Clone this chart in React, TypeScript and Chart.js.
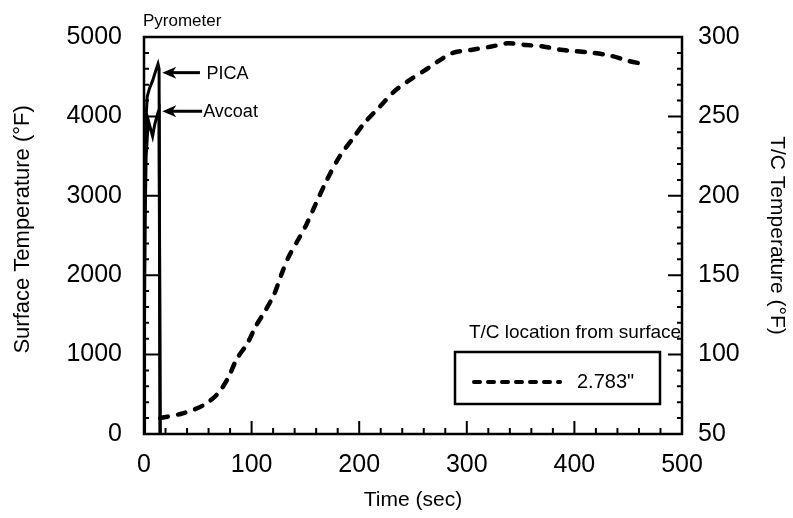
import React, { useEffect, useRef } from "react";
import { Chart, registerables } from "chart.js";

Chart.register(...registerables);

// T/C (thermocouple) temperature, 2.783" from surface (right axis)
const tcTime = [15, 36, 55, 68, 78, 86, 96, 104, 113, 121, 128, 134, 143, 151, 159, 170, 182, 194, 205, 219, 233, 247, 261, 274, 287, 305, 323, 338, 355, 371, 387, 402, 418, 435, 450, 464];
const tcTemp = [60, 63, 68, 75, 85, 97, 107, 118, 128, 138, 151, 161, 172, 182, 194, 210, 225, 236, 246, 256, 266, 273, 279, 285, 290, 292, 294, 296, 295, 294, 292, 291, 290, 288, 285, 283];

// Pyrometer surface temperature (left axis)
const picaTime = [0, 0.5, 1, 2, 3, 5, 8, 11, 13, 14, 15];
const picaTemp = [0, 2000, 3200, 4000, 4250, 4350, 4450, 4580, 4660, 4600, 0];
const avcoatTime = [0, 0.5, 1, 2, 4, 6, 8, 10, 13, 14, 15];
const avcoatTemp = [0, 1500, 2600, 3500, 3950, 3850, 3750, 3900, 4050, 4080, 0];

const xTicks = [0, 100, 200, 300, 400, 500];
const leftTicks = [0, 1000, 2000, 3000, 4000, 5000];
const rightTicks = [50, 100, 150, 200, 250, 300];

const FONT = "'Liberation Sans', Arial, Helvetica, sans-serif";

const decorPlugin = {
  id: "decor",
  afterDatasetsDraw(chart: any) {
    const { ctx, chartArea: a, scales } = chart;
    const x = scales.x, y = scales.y, y2 = scales.y2;
    ctx.save();
    ctx.strokeStyle = "#000";
    ctx.fillStyle = "#000";
    // frame
    ctx.lineWidth = 2.5;
    ctx.strokeRect(a.left, a.top, a.right - a.left, a.bottom - a.top);
    // inward ticks
    ctx.lineWidth = 2;
    ctx.beginPath();
    for (let t = 0; t <= 500; t += 20) {
      const px = x.getPixelForValue(t);
      const len = t % 100 === 0 ? 13 : 6;
      ctx.moveTo(px, a.bottom);
      ctx.lineTo(px, a.bottom - len);
    }
    for (let v = 0; v <= 5000; v += 200) {
      const py = y.getPixelForValue(v);
      const len = v % 1000 === 0 ? 15 : 5;
      ctx.moveTo(a.left, py);
      ctx.lineTo(a.left + len, py);
    }
    for (let v = 50; v <= 300; v += 10) {
      const py = y2.getPixelForValue(v);
      const len = v % 50 === 0 ? 14 : 5;
      ctx.moveTo(a.right, py);
      ctx.lineTo(a.right - len, py);
    }
    ctx.stroke();

    // Pyrometer label
    ctx.font = `17px ${FONT}`;
    ctx.textBaseline = "middle";
    ctx.textAlign = "left";
    ctx.fillText("Pyrometer", a.left - 1, 21);

    // arrows
    const arrows = [
      { text: "PICA", tipT: 17, v: 4551, endT: 52, textT: 58 },
      { text: "Avcoat", tipT: 17, v: 4065, endT: 54, textT: 55 },
    ];
    ctx.font = `18px ${FONT}`;
    ctx.lineWidth = 3;
    for (const ar of arrows) {
      const tx = x.getPixelForValue(ar.tipT);
      const ex = x.getPixelForValue(ar.endT);
      const py = y.getPixelForValue(ar.v);
      ctx.beginPath();
      ctx.moveTo(tx + 8, py);
      ctx.lineTo(ex, py);
      ctx.stroke();
      ctx.beginPath();
      ctx.moveTo(tx, py);
      ctx.lineTo(tx + 14, py - 6);
      ctx.lineTo(tx + 10, py);
      ctx.lineTo(tx + 14, py + 6);
      ctx.closePath();
      ctx.fill();
      ctx.fillText(ar.text, x.getPixelForValue(ar.textT), py + 1);
    }

    // legend
    ctx.font = `19px ${FONT}`;
    ctx.textAlign = "center";
    ctx.fillText("T/C location from surface", 575, 333);
    ctx.lineWidth = 2.5;
    ctx.strokeRect(455, 352, 205, 52);
    ctx.save();
    ctx.lineWidth = 4;
    ctx.lineCap = "round";
    ctx.setLineDash([6, 8]);
    ctx.beginPath();
    ctx.moveTo(474, 382);
    ctx.lineTo(560, 382);
    ctx.stroke();
    ctx.restore();
    ctx.font = `20px ${FONT}`;
    ctx.textAlign = "left";
    ctx.fillText("2.783\"", 577, 382);
    ctx.restore();
  },
};

export default function App() {
  const ref = useRef<HTMLCanvasElement>(null);
  useEffect(() => {
    document.body.style.margin = "0";
    const canvas = ref.current!;
    const tick = { color: "#000", font: { family: FONT, size: 25 }, callback: (v: any) => String(v) };
    const chart = new Chart(canvas, {
      type: "scatter",
      data: {
        datasets: [
          {
            label: "PICA",
            data: picaTime.map((t, i) => ({ x: t, y: picaTemp[i] })),
            showLine: true,
            borderColor: "#000",
            borderWidth: 3,
            pointRadius: 0,
            yAxisID: "y",
          },
          {
            label: "Avcoat",
            data: avcoatTime.map((t, i) => ({ x: t, y: avcoatTemp[i] })),
            showLine: true,
            borderColor: "#000",
            borderWidth: 3,
            pointRadius: 0,
            yAxisID: "y",
          },
          {
            label: '2.783"',
            data: tcTime.map((t, i) => ({ x: t, y: tcTemp[i] })),
            showLine: true,
            borderColor: "#000",
            borderWidth: 4.5,
            borderDash: [8, 10],
            borderCapStyle: "round",
            pointRadius: 0,
            tension: 0.3,
            yAxisID: "y2",
          },
        ],
      },
      options: {
        responsive: false,
        animation: false,
        layout: { padding: { top: 33, left: 0, right: 0, bottom: 0 } },
        plugins: { legend: { display: false }, tooltip: { enabled: false } },
        scales: {
          x: {
            type: "linear",
            min: 0,
            max: 500,
            afterBuildTicks: (s: any) => { s.ticks = xTicks.map((v) => ({ value: v })); },
            ticks: { ...tick, padding: 16 },
            grid: { display: false, drawTicks: false },
            border: { display: false },
            title: { display: true, text: "Time (sec)", color: "#000", font: { family: FONT, size: 21 }, padding: { bottom: 5 } },
            afterFit: (s: any) => { s.height = 84; },
          },
          y: {
            type: "linear",
            position: "left",
            min: 0,
            max: 5000,
            afterBuildTicks: (s: any) => { s.ticks = leftTicks.map((v) => ({ value: v })); },
            ticks: { ...tick, padding: 22 },
            grid: { display: false, drawTicks: false },
            border: { display: false },
            title: { display: true, text: "  Surface Temperature (°F)", color: "#000", font: { family: FONT, size: 22 }, padding: { top: 10 } },
            afterFit: (s: any) => { s.width = 144; },
          },
          y2: {
            type: "linear",
            position: "right",
            min: 50,
            max: 300,
            afterBuildTicks: (s: any) => { s.ticks = rightTicks.map((v) => ({ value: v })); },
            ticks: { ...tick, padding: 16 },
            grid: { display: false, drawTicks: false },
            border: { display: false },
            title: { display: true, text: "T/C Temperature (°F)", color: "#000", font: { family: FONT, size: 21 }, padding: { top: 4 } },
            afterFit: (s: any) => { s.width = 111; },
          },
        },
      },
      plugins: [decorPlugin],
    } as any);
    return () => chart.destroy();
  }, []);
  return <canvas ref={ref} width={793} height={518} style={{ display: "block" }} />;
}
